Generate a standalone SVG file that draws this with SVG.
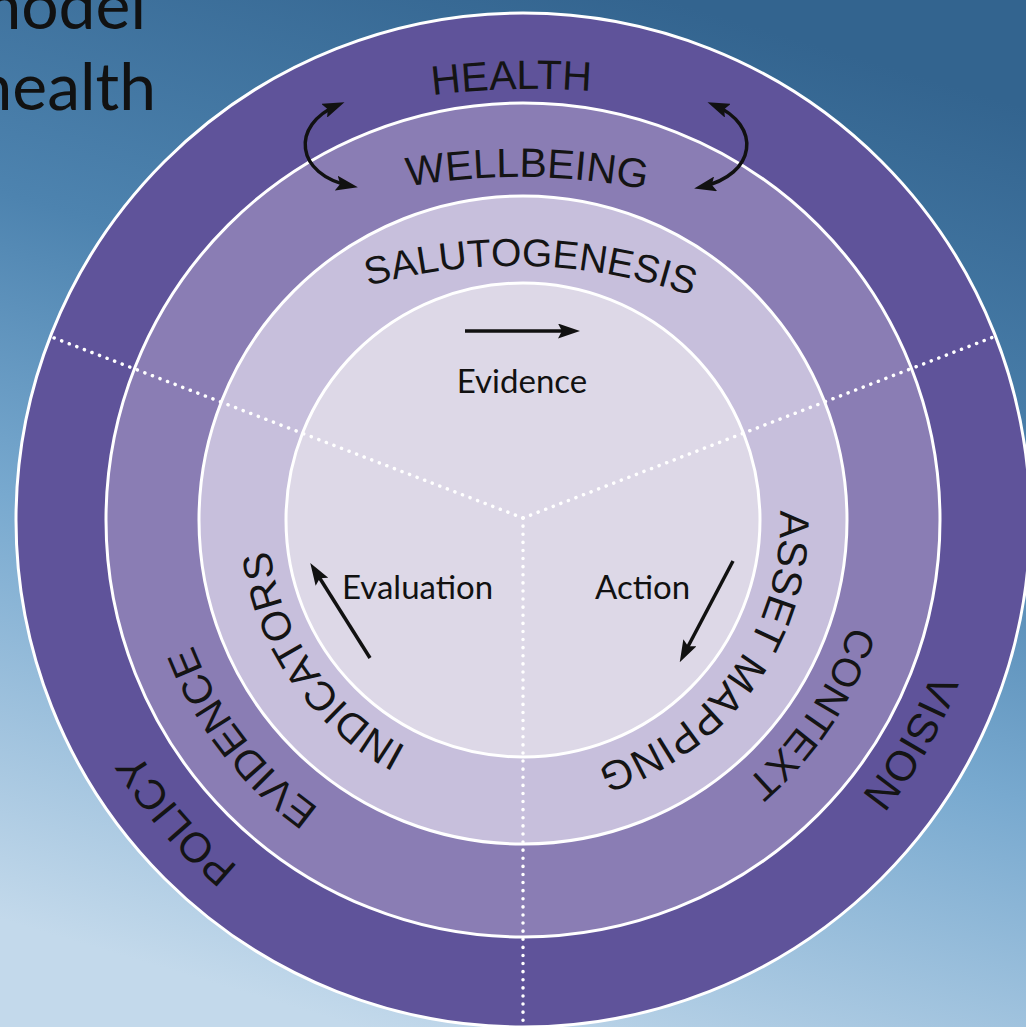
<svg xmlns="http://www.w3.org/2000/svg" width="1026" height="1027" viewBox="0 0 1026 1027">
<style>
.ring{stroke:#ffffff;stroke-width:3}
.lbl{font-family:"Liberation Sans",Arial,sans-serif;font-size:41px;fill:#141414}
.gs{font-family:Lato,"Open Sans",sans-serif;fill:#111111}
.dot{fill:none;stroke:#ffffff;stroke-width:3.5;stroke-linecap:round;stroke-dasharray:0.1 8}
.arr{fill:none;stroke:#111111;stroke-width:3.5}
</style>
<defs>
<linearGradient id="bg" x1="0.65" y1="0" x2="0.35" y2="1">
<stop offset="0" stop-color="#33648f"/>
<stop offset="0.35" stop-color="#4d83af"/>
<stop offset="0.62" stop-color="#78a9cf"/>
<stop offset="1" stop-color="#c3d9eb"/>
</linearGradient>
<marker id="ah" viewBox="0 0 22 15" refX="15" refY="7.5" markerWidth="22" markerHeight="15" markerUnits="userSpaceOnUse" orient="auto-start-reverse">
<path d="M0,0 L22,7.5 L0,15 L4,7.5 z" fill="#111111"/>
</marker>
<path id="pHealth" d="M-277,889 A800,800 0 0 1 1323,889"/>
<path id="pWell" d="M-127,827 A650,650 0 0 1 1173,827"/>
<path id="pSalu" d="M-17,806 A540,540 0 0 1 1063,806"/>
<path id="pVision" d="M772.8,156.6 A441,441 0 0 1 273.2,883.4"/>
<path id="pContext" d="M721.2,231.6 A350,350 0 0 1 324.8,808.4"/>
<path id="pAsset" d="M668.6,308.2 A257,257 0 0 1 377.4,731.8"/>
<path id="pPolicy" d="M779,892.5 A452,452 0 0 1 267,147.5"/>
<path id="pEvid" d="M724.6,813.4 A356,356 0 0 1 321.4,226.6"/>
<path id="pIndic" d="M669.7,733.4 A259,259 0 0 1 376.3,306.6"/>
</defs>
<rect x="0" y="0" width="1026" height="1027" fill="url(#bg)"/>
<g id="title" class="gs" font-size="66">
<text x="146" y="29" text-anchor="end">model</text>
<text x="156" y="110" text-anchor="end">health</text>
</g>
<g id="ring-health"><circle class="ring" cx="523" cy="520" r="507" fill="#5f539a"/></g>
<g id="ring-wellbeing"><circle class="ring" cx="523" cy="520" r="417" fill="#8a7db4"/></g>
<g id="ring-salutogenesis"><circle class="ring" cx="523" cy="520" r="324" fill="#c7bfdc"/></g>
<g id="core"><circle class="ring" cx="523" cy="520" r="237" fill="#ddd8e7"/></g>
<g id="dividers">
<line class="dot" x1="523" y1="518" x2="49" y2="336"/>
<line class="dot" x1="523" y1="518" x2="996" y2="336"/>
<line class="dot" x1="523" y1="518" x2="523" y2="1025"/>
</g>
<g id="labels" class="lbl">
<text transform="rotate(-1.5 523 520)"><textPath href="#pHealth" startOffset="50%" text-anchor="middle">HEALTH</textPath></text>
<text transform="rotate(0.7 523 520)"><textPath href="#pWell" startOffset="50%" text-anchor="middle">WELLBEING</textPath></text>
<text font-size="39" transform="rotate(1.7 523 520)"><textPath href="#pSalu" startOffset="50%" text-anchor="middle">SALUTOGENESIS</textPath></text>
<text font-size="42"><textPath href="#pVision" startOffset="47.4%" text-anchor="middle">VISION</textPath></text>
<text font-size="40"><textPath href="#pContext" startOffset="49.6%" text-anchor="middle">CONTEXT</textPath></text>
<text font-size="41.5"><textPath href="#pAsset" startOffset="50.6%" text-anchor="middle">ASSET MAPPING</textPath></text>
<text font-size="42"><textPath href="#pPolicy" startOffset="46.5%" text-anchor="middle">POLICY</textPath></text>
<text><textPath href="#pEvid" startOffset="48.2%" text-anchor="middle">EVIDENCE</textPath></text>
<text><textPath href="#pIndic" startOffset="49.8%" text-anchor="middle">INDICATORS</textPath></text>
</g>
<g id="core-labels" class="gs" font-size="33">
<text x="522" y="393" text-anchor="middle">Evidence</text>
<text x="342" y="599">Evaluation</text>
<text x="595" y="599">Action</text>
</g>
<g id="connectors">
<line class="arr" x1="465" y1="331" x2="573" y2="331" marker-end="url(#ah)"/>
<line class="arr" x1="370" y1="658" x2="314" y2="569" marker-end="url(#ah)"/>
<line class="arr" x1="733" y1="561" x2="683" y2="656" marker-end="url(#ah)"/>
<path class="arr" d="M338,105 C290,125 295,175 351,186" marker-start="url(#ah)" marker-end="url(#ah)"/>
<path class="arr" d="M714,105 C762,125 757,175 701,187" marker-start="url(#ah)" marker-end="url(#ah)"/>
</g>
</svg>
